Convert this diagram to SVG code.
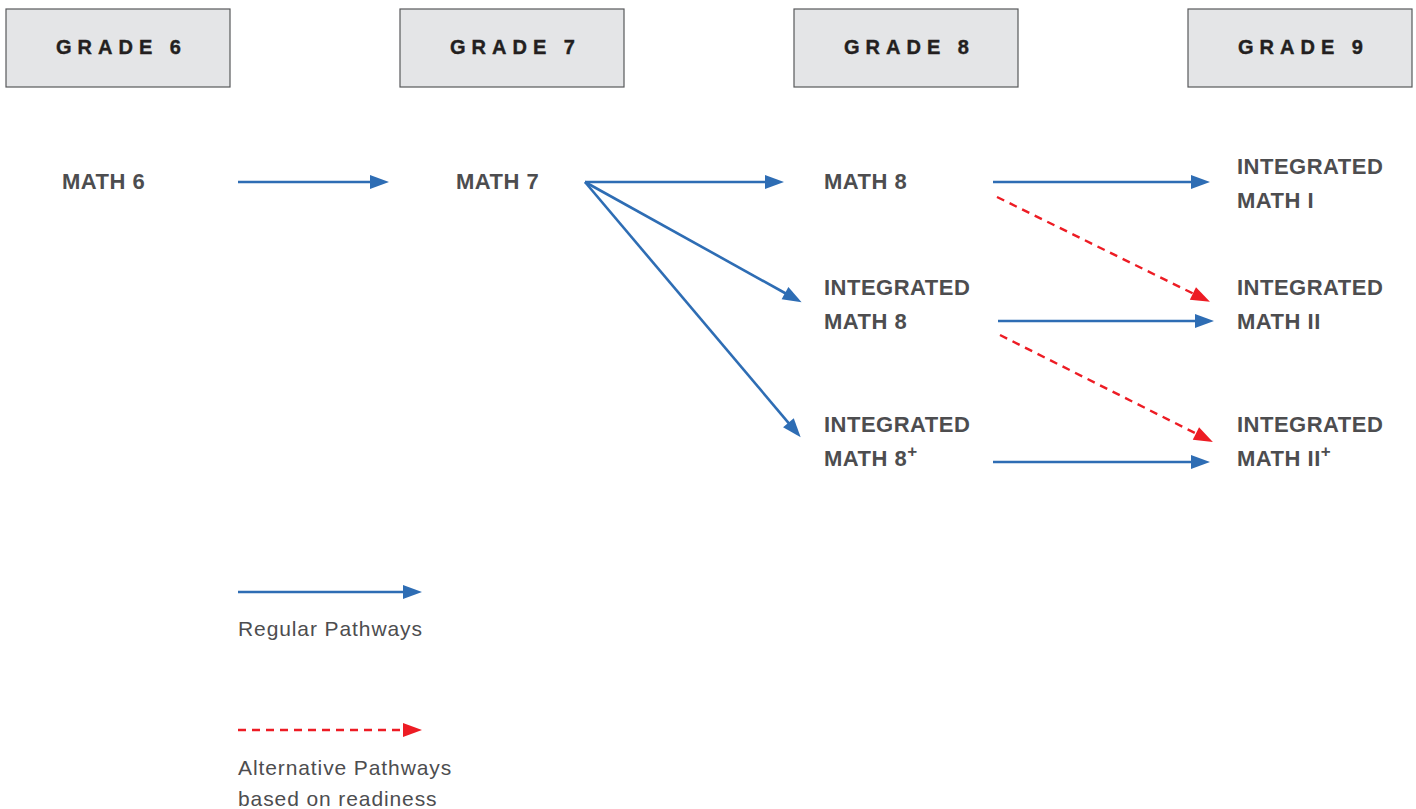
<svg xmlns="http://www.w3.org/2000/svg" width="1416" height="809" viewBox="0 0 1416 809">
  <style>
    .grade rect { fill: #e4e5e7; stroke: #58595b; stroke-width: 1.2; }
    .grade text { font-family: "Liberation Sans", Arial, sans-serif; font-weight: bold; font-size: 20px; letter-spacing: 6px; fill: #231f20; stroke: #231f20; stroke-width: 0.4; }
    .course text { font-family: "Liberation Sans", Arial, sans-serif; font-weight: bold; font-size: 22px; letter-spacing: 0.5px; fill: #4d4d4f; }
    .sup { font-size: 17px; }
    .legend text { font-family: "Liberation Sans", Arial, sans-serif; font-size: 21px; letter-spacing: 0.9px; fill: #4d4d4f; }
    .reg { stroke: #2e6db4; stroke-width: 2.6; fill: none; marker-end: url(#headBlue); }
    .alt { stroke: #ed1c24; stroke-width: 2.4; fill: none; stroke-dasharray: 8 6; marker-end: url(#headRed); }
  </style>
  <defs>
    <marker id="headBlue" markerUnits="userSpaceOnUse" markerWidth="22" markerHeight="16" refX="4" refY="7" orient="auto" overflow="visible">
      <path d="M0,0 L19,7 L0,14 z" fill="#2e6db4"/>
    </marker>
    <marker id="headRed" markerUnits="userSpaceOnUse" markerWidth="22" markerHeight="16" refX="4" refY="7" orient="auto" overflow="visible">
      <path d="M0,0 L19,7 L0,14 z" fill="#ed1c24"/>
    </marker>
  </defs>

  <!-- grade headers -->
  <g id="grade6" class="grade"><rect x="6" y="9" width="224" height="78"/><text x="56" y="54">GRADE 6</text></g>
  <g id="grade7" class="grade"><rect x="400" y="9" width="224" height="78"/><text x="450" y="54">GRADE 7</text></g>
  <g id="grade8" class="grade"><rect x="794" y="9" width="224" height="78"/><text x="844" y="54">GRADE 8</text></g>
  <g id="grade9" class="grade"><rect x="1188" y="9" width="224" height="78"/><text x="1238" y="54">GRADE 9</text></g>

  <!-- courses -->
  <g id="math6" class="course"><text x="62" y="189">MATH 6</text></g>
  <g id="math7" class="course"><text x="456" y="189">MATH 7</text></g>
  <g id="math8" class="course"><text x="824" y="189">MATH 8</text></g>
  <g id="int8" class="course"><text x="824" y="295">INTEGRATED</text><text x="824" y="329">MATH 8</text></g>
  <g id="int8plus" class="course"><text x="824" y="432">INTEGRATED</text><text x="824" y="466">MATH 8<tspan class="sup" dy="-9">+</tspan></text></g>
  <g id="intI" class="course"><text x="1237" y="174">INTEGRATED</text><text x="1237" y="208">MATH I</text></g>
  <g id="intII" class="course"><text x="1237" y="295">INTEGRATED</text><text x="1237" y="329">MATH II</text></g>
  <g id="intIIplus" class="course"><text x="1237" y="432">INTEGRATED</text><text x="1237" y="466">MATH II<tspan class="sup" dy="-9">+</tspan></text></g>

  <!-- pathways -->
  <g id="connectors">
    <line class="reg" x1="238" y1="182" x2="374" y2="182"/>
    <line class="reg" x1="585" y1="182" x2="769" y2="182"/>
    <line class="reg" x1="585" y1="182" x2="788.5" y2="295"/>
    <line class="reg" x1="585" y1="182" x2="791" y2="425.8"/>
    <line class="reg" x1="993" y1="182" x2="1195" y2="182"/>
    <line class="reg" x1="998" y1="321" x2="1199" y2="321"/>
    <line class="reg" x1="993" y1="462" x2="1195" y2="462"/>
    <line class="alt" x1="997" y1="197" x2="1196.5" y2="295.2"/>
    <line class="alt" x1="1000" y1="335" x2="1199.5" y2="435.3"/>
  </g>

  <!-- legend -->
  <g id="legend" class="legend">
    <line class="reg" x1="238" y1="592" x2="407" y2="592"/>
    <text x="238" y="636">Regular Pathways</text>
    <line class="alt" x1="238" y1="730" x2="407" y2="730"/>
    <text x="238" y="775">Alternative Pathways</text>
    <text x="238" y="806">based on readiness</text>
  </g>
</svg>
